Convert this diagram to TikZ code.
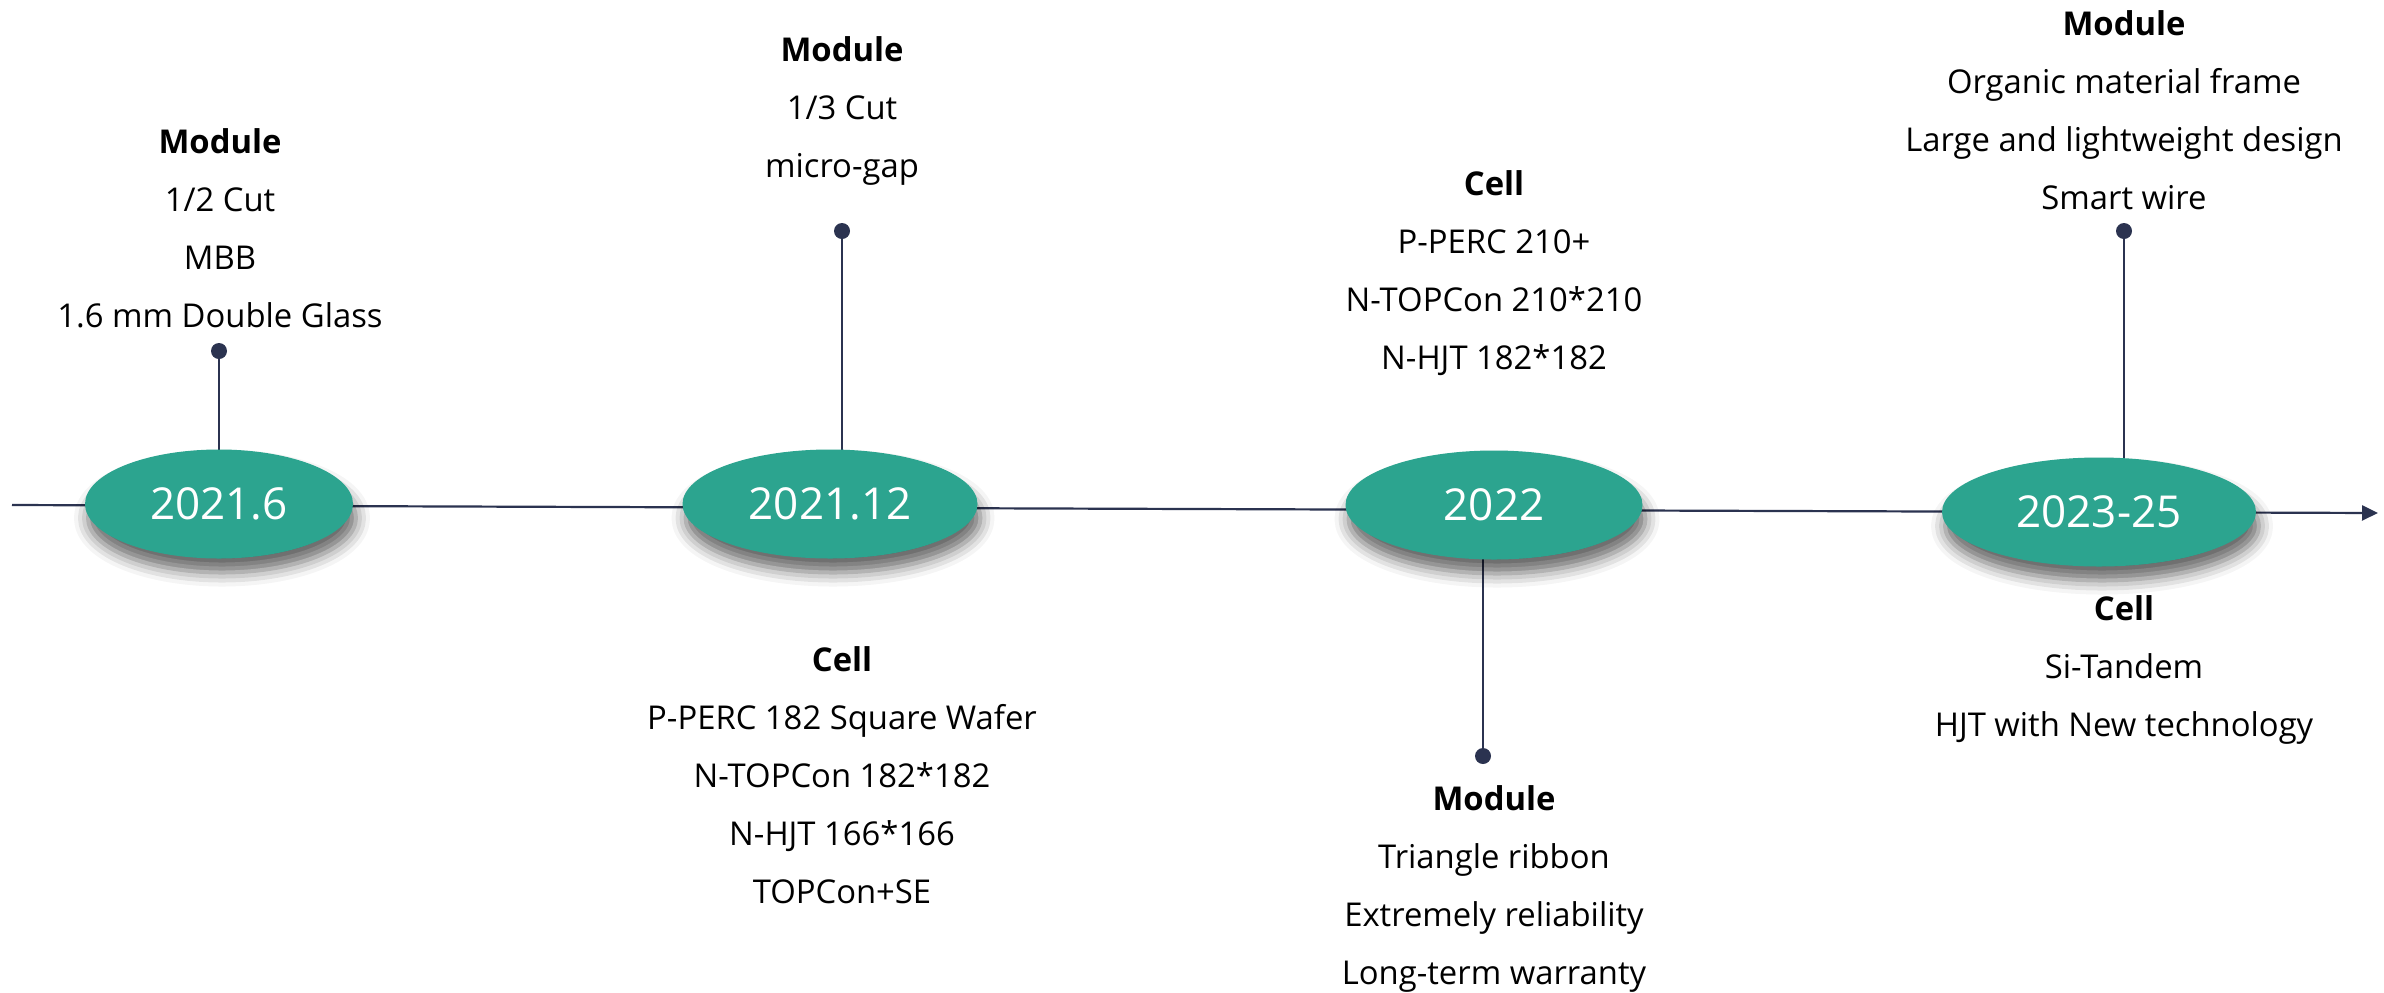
\documentclass[tikz,border=0pt]{standalone}
\usepackage{fontspec}
\setmainfont{Open Sans}
\usetikzlibrary{shapes.geometric,arrows.meta,backgrounds,shadows.blur}
\definecolor{teal1}{HTML}{2CA48F}
\definecolor{navy1}{HTML}{2B3350}
\tikzset{
  year/.style={ellipse, fill=teal1, text=white, inner sep=0pt, minimum height=54.5pt,
    font=\fontsize{22}{26}\selectfont,
    blur shadow={shadow xshift=1.5pt, shadow yshift=-7pt, shadow blur radius=7pt, shadow opacity=60}},
  info/.style={align=center, anchor=north, inner sep=0pt, font=\fontsize{16.4}{29}\selectfont},
  pin/.style={circle, fill=navy1, inner sep=0pt, minimum size=8pt},
  stem/.style={draw=navy1, line width=1pt},
  axis/.style={draw=navy1, line width=1.1pt, -{Triangle[length=8pt,width=7.5pt]}}
}
\begin{document}
\begin{tikzpicture}[x=0.5pt, y=-0.5pt]
\useasboundingbox (0,0) rectangle (2384,992);
% year ellipses
\node[year, minimum width=134pt] (e1) at (219,504) {2021.6};
\node[year, minimum width=147.5pt] (e2) at (830,504) {2021.12};
\node[year, minimum width=148.5pt] (e3) at (1494,505) {2022};
\node[year, minimum width=157pt] (e4) at (2099,512) {2023-25};
% pins
\node[pin] (d1) at (219,351) {};
\node[pin] (d2) at (842,231) {};
\node[pin] (d3) at (1483,756) {};
\node[pin] (d4) at (2124,231) {};
% axis end points
\coordinate (s) at (12,505);
\coordinate (t) at (2378,513);
\begin{pgfonlayer}{background}
\draw[axis] (s) -- (t);
\draw[stem] (d1) -- (d1 |- e1.center);
\draw[stem] (d2) -- (d2 |- e2.center);
\draw[stem] (d3) -- (d3 |- e3.center);
\draw[stem] (d4) -- (d4 |- e4.center);
\end{pgfonlayer}
% texts
\node[info] (b1) at (220,128) {\textbf{Module}\\1/2 Cut\\MBB\\1.6 mm Double Glass};
\node[info] (b2t) at (842,36) {\textbf{Module}\\1/3 Cut\\micro-gap};
\node[info] (b2b) at (842,646) {\textbf{Cell}\\P-PERC 182 Square Wafer\\N-TOPCon 182*182\\N-HJT 166*166\\TOPCon+SE};
\node[info] (b3t) at (1494,170) {\textbf{Cell}\\P-PERC 210+\\N-TOPCon 210*210\\N-HJT 182*182};
\node[info] (b3b) at (1494,785) {\textbf{Module}\\Triangle ribbon\\Extremely reliability\\Long-term warranty};
\node[info] (b4t) at (2124,10) {\textbf{Module}\\Organic material frame\\Large and lightweight design\\Smart wire};
\node[info] (b4b) at (2124,595) {\textbf{Cell}\\Si-Tandem\\HJT with New technology};
\end{tikzpicture}
\end{document}
